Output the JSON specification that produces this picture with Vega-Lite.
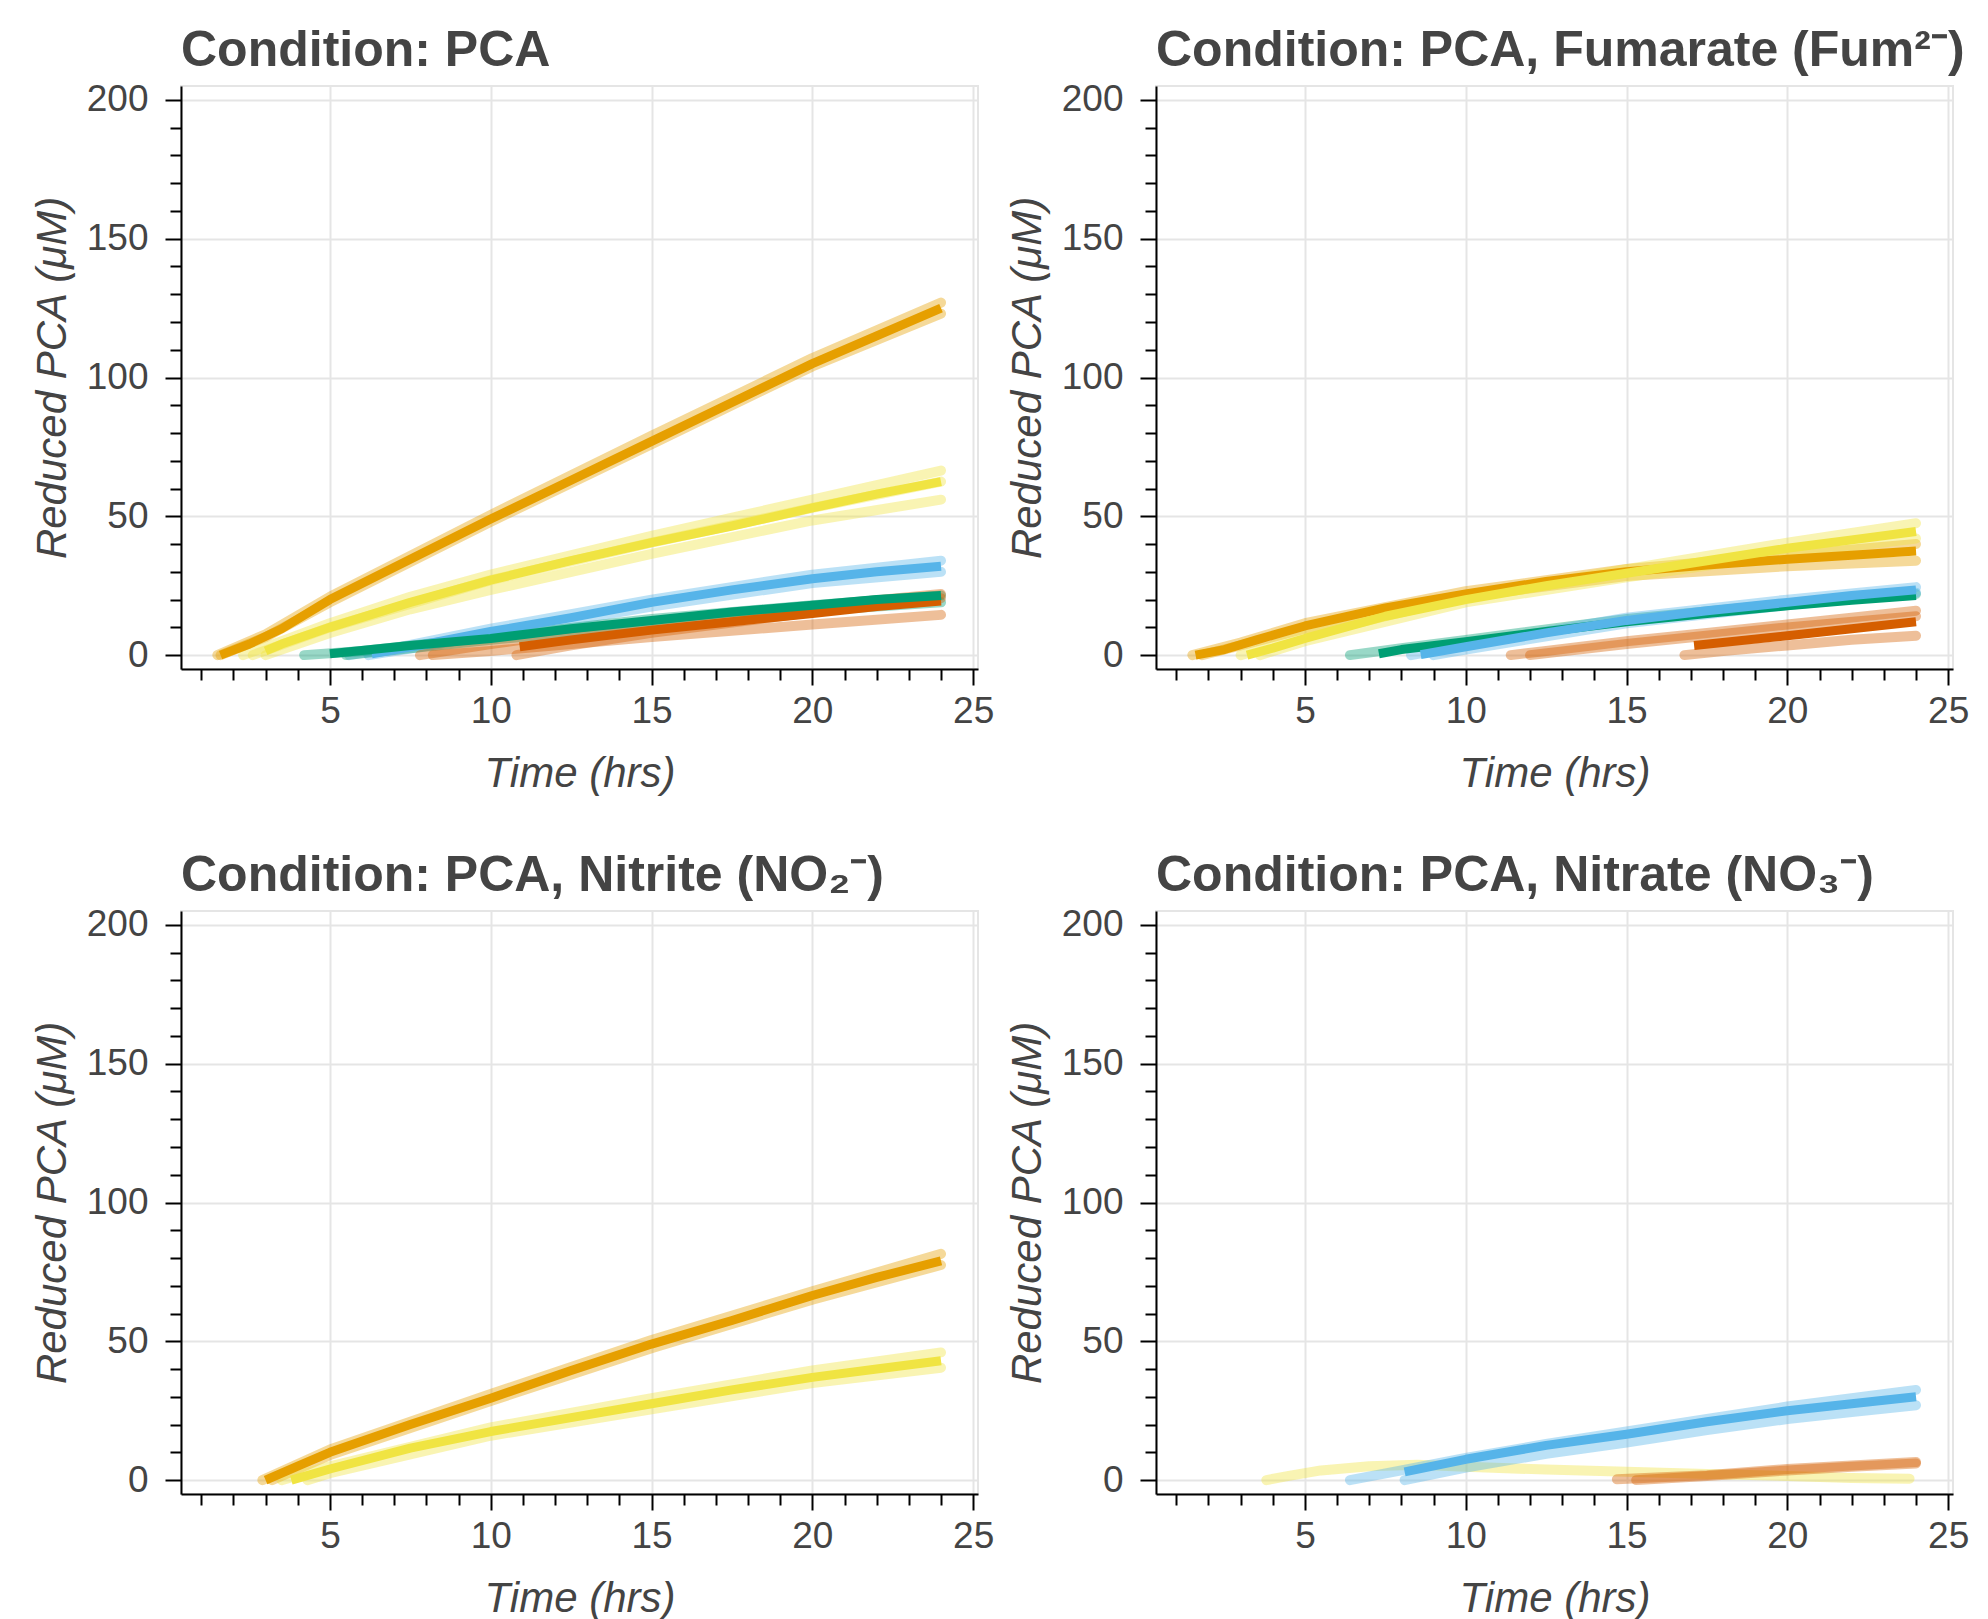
{
  "$schema": "https://vega.github.io/schema/vega-lite/v6.json",
  "padding": {"left": 30, "top": 24, "right": 5, "bottom": 5},
  "datasets": {
    "traces": [
      {"condition":"Condition: PCA","strain":"A","trace":"P-A-r1","kind":"rep","time":1.5,"pca":0},
      {"condition":"Condition: PCA","strain":"A","trace":"P-A-r1","kind":"rep","time":3,"pca":7.5},
      {"condition":"Condition: PCA","strain":"A","trace":"P-A-r1","kind":"rep","time":5,"pca":21},
      {"condition":"Condition: PCA","strain":"A","trace":"P-A-r1","kind":"rep","time":10,"pca":50.5},
      {"condition":"Condition: PCA","strain":"A","trace":"P-A-r1","kind":"rep","time":15,"pca":79},
      {"condition":"Condition: PCA","strain":"A","trace":"P-A-r1","kind":"rep","time":20,"pca":107},
      {"condition":"Condition: PCA","strain":"A","trace":"P-A-r1","kind":"rep","time":24,"pca":127},
      {"condition":"Condition: PCA","strain":"A","trace":"P-A-r2","kind":"rep","time":1.6,"pca":0},
      {"condition":"Condition: PCA","strain":"A","trace":"P-A-r2","kind":"rep","time":3,"pca":6.5},
      {"condition":"Condition: PCA","strain":"A","trace":"P-A-r2","kind":"rep","time":5,"pca":19},
      {"condition":"Condition: PCA","strain":"A","trace":"P-A-r2","kind":"rep","time":10,"pca":48},
      {"condition":"Condition: PCA","strain":"A","trace":"P-A-r2","kind":"rep","time":15,"pca":76},
      {"condition":"Condition: PCA","strain":"A","trace":"P-A-r2","kind":"rep","time":20,"pca":104},
      {"condition":"Condition: PCA","strain":"A","trace":"P-A-r2","kind":"rep","time":24,"pca":123},
      {"condition":"Condition: PCA","strain":"B","trace":"P-B-r1","kind":"rep","time":2.3,"pca":0},
      {"condition":"Condition: PCA","strain":"B","trace":"P-B-r1","kind":"rep","time":3.5,"pca":5},
      {"condition":"Condition: PCA","strain":"B","trace":"P-B-r1","kind":"rep","time":5,"pca":11.5},
      {"condition":"Condition: PCA","strain":"B","trace":"P-B-r1","kind":"rep","time":7.5,"pca":21},
      {"condition":"Condition: PCA","strain":"B","trace":"P-B-r1","kind":"rep","time":10,"pca":29},
      {"condition":"Condition: PCA","strain":"B","trace":"P-B-r1","kind":"rep","time":15,"pca":43},
      {"condition":"Condition: PCA","strain":"B","trace":"P-B-r1","kind":"rep","time":20,"pca":56},
      {"condition":"Condition: PCA","strain":"B","trace":"P-B-r1","kind":"rep","time":24,"pca":66.5},
      {"condition":"Condition: PCA","strain":"B","trace":"P-B-r2","kind":"rep","time":3,"pca":0},
      {"condition":"Condition: PCA","strain":"B","trace":"P-B-r2","kind":"rep","time":5,"pca":8},
      {"condition":"Condition: PCA","strain":"B","trace":"P-B-r2","kind":"rep","time":7.5,"pca":16.5},
      {"condition":"Condition: PCA","strain":"B","trace":"P-B-r2","kind":"rep","time":10,"pca":23.5},
      {"condition":"Condition: PCA","strain":"B","trace":"P-B-r2","kind":"rep","time":15,"pca":36.5},
      {"condition":"Condition: PCA","strain":"B","trace":"P-B-r2","kind":"rep","time":20,"pca":48.5},
      {"condition":"Condition: PCA","strain":"B","trace":"P-B-r2","kind":"rep","time":24,"pca":56},
      {"condition":"Condition: PCA","strain":"B","trace":"P-B-r3","kind":"rep","time":2.6,"pca":0},
      {"condition":"Condition: PCA","strain":"B","trace":"P-B-r3","kind":"rep","time":5,"pca":10},
      {"condition":"Condition: PCA","strain":"B","trace":"P-B-r3","kind":"rep","time":10,"pca":27},
      {"condition":"Condition: PCA","strain":"B","trace":"P-B-r3","kind":"rep","time":15,"pca":40.5},
      {"condition":"Condition: PCA","strain":"B","trace":"P-B-r3","kind":"rep","time":20,"pca":53},
      {"condition":"Condition: PCA","strain":"B","trace":"P-B-r3","kind":"rep","time":24,"pca":62.5},
      {"condition":"Condition: PCA","strain":"C","trace":"P-C-r1","kind":"rep","time":5.6,"pca":0},
      {"condition":"Condition: PCA","strain":"C","trace":"P-C-r1","kind":"rep","time":7,"pca":2.5},
      {"condition":"Condition: PCA","strain":"C","trace":"P-C-r1","kind":"rep","time":10,"pca":9.5},
      {"condition":"Condition: PCA","strain":"C","trace":"P-C-r1","kind":"rep","time":15,"pca":20},
      {"condition":"Condition: PCA","strain":"C","trace":"P-C-r1","kind":"rep","time":20,"pca":29},
      {"condition":"Condition: PCA","strain":"C","trace":"P-C-r1","kind":"rep","time":24,"pca":34},
      {"condition":"Condition: PCA","strain":"C","trace":"P-C-r2","kind":"rep","time":6.2,"pca":0},
      {"condition":"Condition: PCA","strain":"C","trace":"P-C-r2","kind":"rep","time":8,"pca":3.3},
      {"condition":"Condition: PCA","strain":"C","trace":"P-C-r2","kind":"rep","time":10,"pca":7.5},
      {"condition":"Condition: PCA","strain":"C","trace":"P-C-r2","kind":"rep","time":15,"pca":17.5},
      {"condition":"Condition: PCA","strain":"C","trace":"P-C-r2","kind":"rep","time":20,"pca":26},
      {"condition":"Condition: PCA","strain":"C","trace":"P-C-r2","kind":"rep","time":24,"pca":30},
      {"condition":"Condition: PCA","strain":"D","trace":"P-D-r1","kind":"rep","time":4.2,"pca":0},
      {"condition":"Condition: PCA","strain":"D","trace":"P-D-r1","kind":"rep","time":6,"pca":1.5},
      {"condition":"Condition: PCA","strain":"D","trace":"P-D-r1","kind":"rep","time":10,"pca":6.5},
      {"condition":"Condition: PCA","strain":"D","trace":"P-D-r1","kind":"rep","time":15,"pca":13},
      {"condition":"Condition: PCA","strain":"D","trace":"P-D-r1","kind":"rep","time":20,"pca":18},
      {"condition":"Condition: PCA","strain":"D","trace":"P-D-r1","kind":"rep","time":24,"pca":21.5},
      {"condition":"Condition: PCA","strain":"D","trace":"P-D-r2","kind":"rep","time":5.5,"pca":0},
      {"condition":"Condition: PCA","strain":"D","trace":"P-D-r2","kind":"rep","time":10,"pca":5.5},
      {"condition":"Condition: PCA","strain":"D","trace":"P-D-r2","kind":"rep","time":15,"pca":11},
      {"condition":"Condition: PCA","strain":"D","trace":"P-D-r2","kind":"rep","time":20,"pca":16},
      {"condition":"Condition: PCA","strain":"D","trace":"P-D-r2","kind":"rep","time":24,"pca":19},
      {"condition":"Condition: PCA","strain":"E","trace":"P-E-r1","kind":"rep","time":7.8,"pca":0},
      {"condition":"Condition: PCA","strain":"E","trace":"P-E-r1","kind":"rep","time":10,"pca":4},
      {"condition":"Condition: PCA","strain":"E","trace":"P-E-r1","kind":"rep","time":12.5,"pca":8},
      {"condition":"Condition: PCA","strain":"E","trace":"P-E-r1","kind":"rep","time":15,"pca":11.5},
      {"condition":"Condition: PCA","strain":"E","trace":"P-E-r1","kind":"rep","time":20,"pca":17.5},
      {"condition":"Condition: PCA","strain":"E","trace":"P-E-r1","kind":"rep","time":24,"pca":22},
      {"condition":"Condition: PCA","strain":"E","trace":"P-E-r2","kind":"rep","time":8.2,"pca":0},
      {"condition":"Condition: PCA","strain":"E","trace":"P-E-r2","kind":"rep","time":10,"pca":1.5},
      {"condition":"Condition: PCA","strain":"E","trace":"P-E-r2","kind":"rep","time":12.5,"pca":4},
      {"condition":"Condition: PCA","strain":"E","trace":"P-E-r2","kind":"rep","time":15,"pca":6.5},
      {"condition":"Condition: PCA","strain":"E","trace":"P-E-r2","kind":"rep","time":20,"pca":11},
      {"condition":"Condition: PCA","strain":"E","trace":"P-E-r2","kind":"rep","time":24,"pca":14.5},
      {"condition":"Condition: PCA","strain":"E","trace":"P-E-r3","kind":"rep","time":10.8,"pca":0},
      {"condition":"Condition: PCA","strain":"E","trace":"P-E-r3","kind":"rep","time":12.5,"pca":3.5},
      {"condition":"Condition: PCA","strain":"E","trace":"P-E-r3","kind":"rep","time":15,"pca":8},
      {"condition":"Condition: PCA","strain":"E","trace":"P-E-r3","kind":"rep","time":20,"pca":15.5},
      {"condition":"Condition: PCA","strain":"E","trace":"P-E-r3","kind":"rep","time":24,"pca":20.5},
      {"condition":"Condition: PCA","strain":"A","trace":"P-A-m","kind":"mean","time":1.6,"pca":0},
      {"condition":"Condition: PCA","strain":"A","trace":"P-A-m","kind":"mean","time":2.5,"pca":4},
      {"condition":"Condition: PCA","strain":"A","trace":"P-A-m","kind":"mean","time":3.5,"pca":9.5},
      {"condition":"Condition: PCA","strain":"A","trace":"P-A-m","kind":"mean","time":5,"pca":20},
      {"condition":"Condition: PCA","strain":"A","trace":"P-A-m","kind":"mean","time":7.5,"pca":34.5},
      {"condition":"Condition: PCA","strain":"A","trace":"P-A-m","kind":"mean","time":10,"pca":49},
      {"condition":"Condition: PCA","strain":"A","trace":"P-A-m","kind":"mean","time":12.5,"pca":63},
      {"condition":"Condition: PCA","strain":"A","trace":"P-A-m","kind":"mean","time":15,"pca":77},
      {"condition":"Condition: PCA","strain":"A","trace":"P-A-m","kind":"mean","time":17.5,"pca":91},
      {"condition":"Condition: PCA","strain":"A","trace":"P-A-m","kind":"mean","time":20,"pca":105},
      {"condition":"Condition: PCA","strain":"A","trace":"P-A-m","kind":"mean","time":22,"pca":115},
      {"condition":"Condition: PCA","strain":"A","trace":"P-A-m","kind":"mean","time":24,"pca":125},
      {"condition":"Condition: PCA","strain":"B","trace":"P-B-m","kind":"mean","time":3,"pca":1.5},
      {"condition":"Condition: PCA","strain":"B","trace":"P-B-m","kind":"mean","time":3.5,"pca":4},
      {"condition":"Condition: PCA","strain":"B","trace":"P-B-m","kind":"mean","time":5,"pca":10},
      {"condition":"Condition: PCA","strain":"B","trace":"P-B-m","kind":"mean","time":7.5,"pca":19},
      {"condition":"Condition: PCA","strain":"B","trace":"P-B-m","kind":"mean","time":10,"pca":27},
      {"condition":"Condition: PCA","strain":"B","trace":"P-B-m","kind":"mean","time":12.5,"pca":34},
      {"condition":"Condition: PCA","strain":"B","trace":"P-B-m","kind":"mean","time":15,"pca":40.5},
      {"condition":"Condition: PCA","strain":"B","trace":"P-B-m","kind":"mean","time":17.5,"pca":46.5},
      {"condition":"Condition: PCA","strain":"B","trace":"P-B-m","kind":"mean","time":20,"pca":53},
      {"condition":"Condition: PCA","strain":"B","trace":"P-B-m","kind":"mean","time":22,"pca":58},
      {"condition":"Condition: PCA","strain":"B","trace":"P-B-m","kind":"mean","time":24,"pca":62.5},
      {"condition":"Condition: PCA","strain":"C","trace":"P-C-m","kind":"mean","time":6.3,"pca":0.5},
      {"condition":"Condition: PCA","strain":"C","trace":"P-C-m","kind":"mean","time":8,"pca":4},
      {"condition":"Condition: PCA","strain":"C","trace":"P-C-m","kind":"mean","time":10,"pca":8.5},
      {"condition":"Condition: PCA","strain":"C","trace":"P-C-m","kind":"mean","time":12.5,"pca":13.5},
      {"condition":"Condition: PCA","strain":"C","trace":"P-C-m","kind":"mean","time":15,"pca":19},
      {"condition":"Condition: PCA","strain":"C","trace":"P-C-m","kind":"mean","time":17.5,"pca":23.5},
      {"condition":"Condition: PCA","strain":"C","trace":"P-C-m","kind":"mean","time":20,"pca":27.5},
      {"condition":"Condition: PCA","strain":"C","trace":"P-C-m","kind":"mean","time":22,"pca":30},
      {"condition":"Condition: PCA","strain":"C","trace":"P-C-m","kind":"mean","time":24,"pca":32},
      {"condition":"Condition: PCA","strain":"E","trace":"P-E-m","kind":"mean","time":10.9,"pca":3},
      {"condition":"Condition: PCA","strain":"E","trace":"P-E-m","kind":"mean","time":12.5,"pca":5.5},
      {"condition":"Condition: PCA","strain":"E","trace":"P-E-m","kind":"mean","time":15,"pca":9},
      {"condition":"Condition: PCA","strain":"E","trace":"P-E-m","kind":"mean","time":17.5,"pca":12},
      {"condition":"Condition: PCA","strain":"E","trace":"P-E-m","kind":"mean","time":20,"pca":15},
      {"condition":"Condition: PCA","strain":"E","trace":"P-E-m","kind":"mean","time":22,"pca":17.5},
      {"condition":"Condition: PCA","strain":"E","trace":"P-E-m","kind":"mean","time":24,"pca":19.5},
      {"condition":"Condition: PCA","strain":"D","trace":"P-D-m","kind":"mean","time":5,"pca":0.5},
      {"condition":"Condition: PCA","strain":"D","trace":"P-D-m","kind":"mean","time":7.5,"pca":3.5},
      {"condition":"Condition: PCA","strain":"D","trace":"P-D-m","kind":"mean","time":10,"pca":6},
      {"condition":"Condition: PCA","strain":"D","trace":"P-D-m","kind":"mean","time":12.5,"pca":9.5},
      {"condition":"Condition: PCA","strain":"D","trace":"P-D-m","kind":"mean","time":15,"pca":12.5},
      {"condition":"Condition: PCA","strain":"D","trace":"P-D-m","kind":"mean","time":17.5,"pca":15.5},
      {"condition":"Condition: PCA","strain":"D","trace":"P-D-m","kind":"mean","time":20,"pca":18},
      {"condition":"Condition: PCA","strain":"D","trace":"P-D-m","kind":"mean","time":22,"pca":20},
      {"condition":"Condition: PCA","strain":"D","trace":"P-D-m","kind":"mean","time":24,"pca":21.5},

      {"condition":"Condition: PCA, Fumarate (Fum²⁻)","strain":"A","trace":"F-A-r1","kind":"rep","time":1.5,"pca":0},
      {"condition":"Condition: PCA, Fumarate (Fum²⁻)","strain":"A","trace":"F-A-r1","kind":"rep","time":3,"pca":4.5},
      {"condition":"Condition: PCA, Fumarate (Fum²⁻)","strain":"A","trace":"F-A-r1","kind":"rep","time":5,"pca":11.5},
      {"condition":"Condition: PCA, Fumarate (Fum²⁻)","strain":"A","trace":"F-A-r1","kind":"rep","time":10,"pca":23},
      {"condition":"Condition: PCA, Fumarate (Fum²⁻)","strain":"A","trace":"F-A-r1","kind":"rep","time":15,"pca":31},
      {"condition":"Condition: PCA, Fumarate (Fum²⁻)","strain":"A","trace":"F-A-r1","kind":"rep","time":20,"pca":36},
      {"condition":"Condition: PCA, Fumarate (Fum²⁻)","strain":"A","trace":"F-A-r1","kind":"rep","time":24,"pca":40},
      {"condition":"Condition: PCA, Fumarate (Fum²⁻)","strain":"A","trace":"F-A-r2","kind":"rep","time":1.8,"pca":0},
      {"condition":"Condition: PCA, Fumarate (Fum²⁻)","strain":"A","trace":"F-A-r2","kind":"rep","time":3,"pca":3.5},
      {"condition":"Condition: PCA, Fumarate (Fum²⁻)","strain":"A","trace":"F-A-r2","kind":"rep","time":5,"pca":9.5},
      {"condition":"Condition: PCA, Fumarate (Fum²⁻)","strain":"A","trace":"F-A-r2","kind":"rep","time":10,"pca":21},
      {"condition":"Condition: PCA, Fumarate (Fum²⁻)","strain":"A","trace":"F-A-r2","kind":"rep","time":15,"pca":28.5},
      {"condition":"Condition: PCA, Fumarate (Fum²⁻)","strain":"A","trace":"F-A-r2","kind":"rep","time":20,"pca":32},
      {"condition":"Condition: PCA, Fumarate (Fum²⁻)","strain":"A","trace":"F-A-r2","kind":"rep","time":24,"pca":34},
      {"condition":"Condition: PCA, Fumarate (Fum²⁻)","strain":"B","trace":"F-B-r1","kind":"rep","time":3,"pca":0},
      {"condition":"Condition: PCA, Fumarate (Fum²⁻)","strain":"B","trace":"F-B-r1","kind":"rep","time":5,"pca":7},
      {"condition":"Condition: PCA, Fumarate (Fum²⁻)","strain":"B","trace":"F-B-r1","kind":"rep","time":10,"pca":21},
      {"condition":"Condition: PCA, Fumarate (Fum²⁻)","strain":"B","trace":"F-B-r1","kind":"rep","time":15,"pca":31},
      {"condition":"Condition: PCA, Fumarate (Fum²⁻)","strain":"B","trace":"F-B-r1","kind":"rep","time":20,"pca":40.5},
      {"condition":"Condition: PCA, Fumarate (Fum²⁻)","strain":"B","trace":"F-B-r1","kind":"rep","time":24,"pca":47.5},
      {"condition":"Condition: PCA, Fumarate (Fum²⁻)","strain":"B","trace":"F-B-r2","kind":"rep","time":3.6,"pca":0},
      {"condition":"Condition: PCA, Fumarate (Fum²⁻)","strain":"B","trace":"F-B-r2","kind":"rep","time":5,"pca":5},
      {"condition":"Condition: PCA, Fumarate (Fum²⁻)","strain":"B","trace":"F-B-r2","kind":"rep","time":10,"pca":19},
      {"condition":"Condition: PCA, Fumarate (Fum²⁻)","strain":"B","trace":"F-B-r2","kind":"rep","time":15,"pca":28},
      {"condition":"Condition: PCA, Fumarate (Fum²⁻)","strain":"B","trace":"F-B-r2","kind":"rep","time":20,"pca":36.5},
      {"condition":"Condition: PCA, Fumarate (Fum²⁻)","strain":"B","trace":"F-B-r2","kind":"rep","time":24,"pca":42},
      {"condition":"Condition: PCA, Fumarate (Fum²⁻)","strain":"D","trace":"F-D-r1","kind":"rep","time":6.4,"pca":0},
      {"condition":"Condition: PCA, Fumarate (Fum²⁻)","strain":"D","trace":"F-D-r1","kind":"rep","time":8,"pca":2.5},
      {"condition":"Condition: PCA, Fumarate (Fum²⁻)","strain":"D","trace":"F-D-r1","kind":"rep","time":10,"pca":5.5},
      {"condition":"Condition: PCA, Fumarate (Fum²⁻)","strain":"D","trace":"F-D-r1","kind":"rep","time":15,"pca":13},
      {"condition":"Condition: PCA, Fumarate (Fum²⁻)","strain":"D","trace":"F-D-r1","kind":"rep","time":20,"pca":18.5},
      {"condition":"Condition: PCA, Fumarate (Fum²⁻)","strain":"D","trace":"F-D-r1","kind":"rep","time":24,"pca":22},
      {"condition":"Condition: PCA, Fumarate (Fum²⁻)","strain":"C","trace":"F-C-r1","kind":"rep","time":8.3,"pca":0},
      {"condition":"Condition: PCA, Fumarate (Fum²⁻)","strain":"C","trace":"F-C-r1","kind":"rep","time":10,"pca":3.5},
      {"condition":"Condition: PCA, Fumarate (Fum²⁻)","strain":"C","trace":"F-C-r1","kind":"rep","time":15,"pca":13.5},
      {"condition":"Condition: PCA, Fumarate (Fum²⁻)","strain":"C","trace":"F-C-r1","kind":"rep","time":20,"pca":20},
      {"condition":"Condition: PCA, Fumarate (Fum²⁻)","strain":"C","trace":"F-C-r1","kind":"rep","time":24,"pca":24.5},
      {"condition":"Condition: PCA, Fumarate (Fum²⁻)","strain":"C","trace":"F-C-r2","kind":"rep","time":9,"pca":0},
      {"condition":"Condition: PCA, Fumarate (Fum²⁻)","strain":"C","trace":"F-C-r2","kind":"rep","time":10,"pca":2},
      {"condition":"Condition: PCA, Fumarate (Fum²⁻)","strain":"C","trace":"F-C-r2","kind":"rep","time":15,"pca":11.5},
      {"condition":"Condition: PCA, Fumarate (Fum²⁻)","strain":"C","trace":"F-C-r2","kind":"rep","time":20,"pca":18},
      {"condition":"Condition: PCA, Fumarate (Fum²⁻)","strain":"C","trace":"F-C-r2","kind":"rep","time":24,"pca":22.5},
      {"condition":"Condition: PCA, Fumarate (Fum²⁻)","strain":"E","trace":"F-E-r1","kind":"rep","time":11.4,"pca":0},
      {"condition":"Condition: PCA, Fumarate (Fum²⁻)","strain":"E","trace":"F-E-r1","kind":"rep","time":12.5,"pca":1.5},
      {"condition":"Condition: PCA, Fumarate (Fum²⁻)","strain":"E","trace":"F-E-r1","kind":"rep","time":15,"pca":5},
      {"condition":"Condition: PCA, Fumarate (Fum²⁻)","strain":"E","trace":"F-E-r1","kind":"rep","time":17.5,"pca":8},
      {"condition":"Condition: PCA, Fumarate (Fum²⁻)","strain":"E","trace":"F-E-r1","kind":"rep","time":20,"pca":11},
      {"condition":"Condition: PCA, Fumarate (Fum²⁻)","strain":"E","trace":"F-E-r1","kind":"rep","time":22,"pca":13.5},
      {"condition":"Condition: PCA, Fumarate (Fum²⁻)","strain":"E","trace":"F-E-r1","kind":"rep","time":24,"pca":16},
      {"condition":"Condition: PCA, Fumarate (Fum²⁻)","strain":"E","trace":"F-E-r2","kind":"rep","time":12,"pca":0},
      {"condition":"Condition: PCA, Fumarate (Fum²⁻)","strain":"E","trace":"F-E-r2","kind":"rep","time":15,"pca":4},
      {"condition":"Condition: PCA, Fumarate (Fum²⁻)","strain":"E","trace":"F-E-r2","kind":"rep","time":20,"pca":10},
      {"condition":"Condition: PCA, Fumarate (Fum²⁻)","strain":"E","trace":"F-E-r2","kind":"rep","time":24,"pca":14},
      {"condition":"Condition: PCA, Fumarate (Fum²⁻)","strain":"E","trace":"F-E-r3","kind":"rep","time":16.8,"pca":0},
      {"condition":"Condition: PCA, Fumarate (Fum²⁻)","strain":"E","trace":"F-E-r3","kind":"rep","time":18,"pca":1.5},
      {"condition":"Condition: PCA, Fumarate (Fum²⁻)","strain":"E","trace":"F-E-r3","kind":"rep","time":20,"pca":3.5},
      {"condition":"Condition: PCA, Fumarate (Fum²⁻)","strain":"E","trace":"F-E-r3","kind":"rep","time":22,"pca":5.5},
      {"condition":"Condition: PCA, Fumarate (Fum²⁻)","strain":"E","trace":"F-E-r3","kind":"rep","time":24,"pca":7},
      {"condition":"Condition: PCA, Fumarate (Fum²⁻)","strain":"A","trace":"F-A-m","kind":"mean","time":1.6,"pca":0},
      {"condition":"Condition: PCA, Fumarate (Fum²⁻)","strain":"A","trace":"F-A-m","kind":"mean","time":2.5,"pca":2},
      {"condition":"Condition: PCA, Fumarate (Fum²⁻)","strain":"A","trace":"F-A-m","kind":"mean","time":3.5,"pca":5.5},
      {"condition":"Condition: PCA, Fumarate (Fum²⁻)","strain":"A","trace":"F-A-m","kind":"mean","time":5,"pca":10.5},
      {"condition":"Condition: PCA, Fumarate (Fum²⁻)","strain":"A","trace":"F-A-m","kind":"mean","time":7.5,"pca":17},
      {"condition":"Condition: PCA, Fumarate (Fum²⁻)","strain":"A","trace":"F-A-m","kind":"mean","time":10,"pca":22},
      {"condition":"Condition: PCA, Fumarate (Fum²⁻)","strain":"A","trace":"F-A-m","kind":"mean","time":12.5,"pca":26.5},
      {"condition":"Condition: PCA, Fumarate (Fum²⁻)","strain":"A","trace":"F-A-m","kind":"mean","time":15,"pca":30},
      {"condition":"Condition: PCA, Fumarate (Fum²⁻)","strain":"A","trace":"F-A-m","kind":"mean","time":17.5,"pca":32.5},
      {"condition":"Condition: PCA, Fumarate (Fum²⁻)","strain":"A","trace":"F-A-m","kind":"mean","time":20,"pca":34.5},
      {"condition":"Condition: PCA, Fumarate (Fum²⁻)","strain":"A","trace":"F-A-m","kind":"mean","time":22,"pca":36},
      {"condition":"Condition: PCA, Fumarate (Fum²⁻)","strain":"A","trace":"F-A-m","kind":"mean","time":24,"pca":37.5},
      {"condition":"Condition: PCA, Fumarate (Fum²⁻)","strain":"B","trace":"F-B-m","kind":"mean","time":3.2,"pca":0},
      {"condition":"Condition: PCA, Fumarate (Fum²⁻)","strain":"B","trace":"F-B-m","kind":"mean","time":4,"pca":2.5},
      {"condition":"Condition: PCA, Fumarate (Fum²⁻)","strain":"B","trace":"F-B-m","kind":"mean","time":5,"pca":6},
      {"condition":"Condition: PCA, Fumarate (Fum²⁻)","strain":"B","trace":"F-B-m","kind":"mean","time":7.5,"pca":14},
      {"condition":"Condition: PCA, Fumarate (Fum²⁻)","strain":"B","trace":"F-B-m","kind":"mean","time":10,"pca":20},
      {"condition":"Condition: PCA, Fumarate (Fum²⁻)","strain":"B","trace":"F-B-m","kind":"mean","time":12.5,"pca":25},
      {"condition":"Condition: PCA, Fumarate (Fum²⁻)","strain":"B","trace":"F-B-m","kind":"mean","time":15,"pca":29.5},
      {"condition":"Condition: PCA, Fumarate (Fum²⁻)","strain":"B","trace":"F-B-m","kind":"mean","time":17.5,"pca":34},
      {"condition":"Condition: PCA, Fumarate (Fum²⁻)","strain":"B","trace":"F-B-m","kind":"mean","time":20,"pca":38.5},
      {"condition":"Condition: PCA, Fumarate (Fum²⁻)","strain":"B","trace":"F-B-m","kind":"mean","time":22,"pca":41.5},
      {"condition":"Condition: PCA, Fumarate (Fum²⁻)","strain":"B","trace":"F-B-m","kind":"mean","time":24,"pca":44.5},
      {"condition":"Condition: PCA, Fumarate (Fum²⁻)","strain":"D","trace":"F-D-m","kind":"mean","time":7.3,"pca":0.5},
      {"condition":"Condition: PCA, Fumarate (Fum²⁻)","strain":"D","trace":"F-D-m","kind":"mean","time":8,"pca":2},
      {"condition":"Condition: PCA, Fumarate (Fum²⁻)","strain":"D","trace":"F-D-m","kind":"mean","time":10,"pca":4.8},
      {"condition":"Condition: PCA, Fumarate (Fum²⁻)","strain":"D","trace":"F-D-m","kind":"mean","time":12.5,"pca":8.5},
      {"condition":"Condition: PCA, Fumarate (Fum²⁻)","strain":"D","trace":"F-D-m","kind":"mean","time":15,"pca":12},
      {"condition":"Condition: PCA, Fumarate (Fum²⁻)","strain":"D","trace":"F-D-m","kind":"mean","time":17.5,"pca":15},
      {"condition":"Condition: PCA, Fumarate (Fum²⁻)","strain":"D","trace":"F-D-m","kind":"mean","time":20,"pca":17.8},
      {"condition":"Condition: PCA, Fumarate (Fum²⁻)","strain":"D","trace":"F-D-m","kind":"mean","time":22,"pca":19.8},
      {"condition":"Condition: PCA, Fumarate (Fum²⁻)","strain":"D","trace":"F-D-m","kind":"mean","time":24,"pca":21.5},
      {"condition":"Condition: PCA, Fumarate (Fum²⁻)","strain":"C","trace":"F-C-m","kind":"mean","time":8.6,"pca":0.2},
      {"condition":"Condition: PCA, Fumarate (Fum²⁻)","strain":"C","trace":"F-C-m","kind":"mean","time":10,"pca":3},
      {"condition":"Condition: PCA, Fumarate (Fum²⁻)","strain":"C","trace":"F-C-m","kind":"mean","time":12.5,"pca":8},
      {"condition":"Condition: PCA, Fumarate (Fum²⁻)","strain":"C","trace":"F-C-m","kind":"mean","time":15,"pca":12.5},
      {"condition":"Condition: PCA, Fumarate (Fum²⁻)","strain":"C","trace":"F-C-m","kind":"mean","time":17.5,"pca":16},
      {"condition":"Condition: PCA, Fumarate (Fum²⁻)","strain":"C","trace":"F-C-m","kind":"mean","time":20,"pca":19},
      {"condition":"Condition: PCA, Fumarate (Fum²⁻)","strain":"C","trace":"F-C-m","kind":"mean","time":22,"pca":21.5},
      {"condition":"Condition: PCA, Fumarate (Fum²⁻)","strain":"C","trace":"F-C-m","kind":"mean","time":24,"pca":23.5},
      {"condition":"Condition: PCA, Fumarate (Fum²⁻)","strain":"E","trace":"F-E-m","kind":"mean","time":17.1,"pca":3.5},
      {"condition":"Condition: PCA, Fumarate (Fum²⁻)","strain":"E","trace":"F-E-m","kind":"mean","time":20,"pca":7},
      {"condition":"Condition: PCA, Fumarate (Fum²⁻)","strain":"E","trace":"F-E-m","kind":"mean","time":22,"pca":9.5},
      {"condition":"Condition: PCA, Fumarate (Fum²⁻)","strain":"E","trace":"F-E-m","kind":"mean","time":24,"pca":12},

      {"condition":"Condition: PCA, Nitrite (NO₂⁻)","strain":"A","trace":"N2-A-r1","kind":"rep","time":2.9,"pca":0},
      {"condition":"Condition: PCA, Nitrite (NO₂⁻)","strain":"A","trace":"N2-A-r1","kind":"rep","time":5,"pca":11},
      {"condition":"Condition: PCA, Nitrite (NO₂⁻)","strain":"A","trace":"N2-A-r1","kind":"rep","time":10,"pca":31},
      {"condition":"Condition: PCA, Nitrite (NO₂⁻)","strain":"A","trace":"N2-A-r1","kind":"rep","time":15,"pca":50.5},
      {"condition":"Condition: PCA, Nitrite (NO₂⁻)","strain":"A","trace":"N2-A-r1","kind":"rep","time":20,"pca":68},
      {"condition":"Condition: PCA, Nitrite (NO₂⁻)","strain":"A","trace":"N2-A-r1","kind":"rep","time":24,"pca":81.5},
      {"condition":"Condition: PCA, Nitrite (NO₂⁻)","strain":"A","trace":"N2-A-r2","kind":"rep","time":3.2,"pca":0},
      {"condition":"Condition: PCA, Nitrite (NO₂⁻)","strain":"A","trace":"N2-A-r2","kind":"rep","time":5,"pca":9},
      {"condition":"Condition: PCA, Nitrite (NO₂⁻)","strain":"A","trace":"N2-A-r2","kind":"rep","time":10,"pca":28.5},
      {"condition":"Condition: PCA, Nitrite (NO₂⁻)","strain":"A","trace":"N2-A-r2","kind":"rep","time":15,"pca":47.5},
      {"condition":"Condition: PCA, Nitrite (NO₂⁻)","strain":"A","trace":"N2-A-r2","kind":"rep","time":20,"pca":65},
      {"condition":"Condition: PCA, Nitrite (NO₂⁻)","strain":"A","trace":"N2-A-r2","kind":"rep","time":24,"pca":77.5},
      {"condition":"Condition: PCA, Nitrite (NO₂⁻)","strain":"B","trace":"N2-B-r1","kind":"rep","time":3.5,"pca":0},
      {"condition":"Condition: PCA, Nitrite (NO₂⁻)","strain":"B","trace":"N2-B-r1","kind":"rep","time":5,"pca":5},
      {"condition":"Condition: PCA, Nitrite (NO₂⁻)","strain":"B","trace":"N2-B-r1","kind":"rep","time":10,"pca":19},
      {"condition":"Condition: PCA, Nitrite (NO₂⁻)","strain":"B","trace":"N2-B-r1","kind":"rep","time":15,"pca":29.5},
      {"condition":"Condition: PCA, Nitrite (NO₂⁻)","strain":"B","trace":"N2-B-r1","kind":"rep","time":20,"pca":39.5},
      {"condition":"Condition: PCA, Nitrite (NO₂⁻)","strain":"B","trace":"N2-B-r1","kind":"rep","time":24,"pca":46},
      {"condition":"Condition: PCA, Nitrite (NO₂⁻)","strain":"B","trace":"N2-B-r2","kind":"rep","time":4.3,"pca":0},
      {"condition":"Condition: PCA, Nitrite (NO₂⁻)","strain":"B","trace":"N2-B-r2","kind":"rep","time":5,"pca":2.5},
      {"condition":"Condition: PCA, Nitrite (NO₂⁻)","strain":"B","trace":"N2-B-r2","kind":"rep","time":10,"pca":16},
      {"condition":"Condition: PCA, Nitrite (NO₂⁻)","strain":"B","trace":"N2-B-r2","kind":"rep","time":15,"pca":25.5},
      {"condition":"Condition: PCA, Nitrite (NO₂⁻)","strain":"B","trace":"N2-B-r2","kind":"rep","time":20,"pca":35},
      {"condition":"Condition: PCA, Nitrite (NO₂⁻)","strain":"B","trace":"N2-B-r2","kind":"rep","time":24,"pca":40.5},
      {"condition":"Condition: PCA, Nitrite (NO₂⁻)","strain":"A","trace":"N2-A-m","kind":"mean","time":3,"pca":0},
      {"condition":"Condition: PCA, Nitrite (NO₂⁻)","strain":"A","trace":"N2-A-m","kind":"mean","time":4,"pca":5},
      {"condition":"Condition: PCA, Nitrite (NO₂⁻)","strain":"A","trace":"N2-A-m","kind":"mean","time":5,"pca":10},
      {"condition":"Condition: PCA, Nitrite (NO₂⁻)","strain":"A","trace":"N2-A-m","kind":"mean","time":7.5,"pca":20},
      {"condition":"Condition: PCA, Nitrite (NO₂⁻)","strain":"A","trace":"N2-A-m","kind":"mean","time":10,"pca":29.5},
      {"condition":"Condition: PCA, Nitrite (NO₂⁻)","strain":"A","trace":"N2-A-m","kind":"mean","time":12.5,"pca":39.5},
      {"condition":"Condition: PCA, Nitrite (NO₂⁻)","strain":"A","trace":"N2-A-m","kind":"mean","time":15,"pca":49},
      {"condition":"Condition: PCA, Nitrite (NO₂⁻)","strain":"A","trace":"N2-A-m","kind":"mean","time":17.5,"pca":57.5},
      {"condition":"Condition: PCA, Nitrite (NO₂⁻)","strain":"A","trace":"N2-A-m","kind":"mean","time":20,"pca":66.5},
      {"condition":"Condition: PCA, Nitrite (NO₂⁻)","strain":"A","trace":"N2-A-m","kind":"mean","time":22,"pca":73},
      {"condition":"Condition: PCA, Nitrite (NO₂⁻)","strain":"A","trace":"N2-A-m","kind":"mean","time":24,"pca":79},
      {"condition":"Condition: PCA, Nitrite (NO₂⁻)","strain":"B","trace":"N2-B-m","kind":"mean","time":3.8,"pca":0},
      {"condition":"Condition: PCA, Nitrite (NO₂⁻)","strain":"B","trace":"N2-B-m","kind":"mean","time":5,"pca":4},
      {"condition":"Condition: PCA, Nitrite (NO₂⁻)","strain":"B","trace":"N2-B-m","kind":"mean","time":7.5,"pca":11.5},
      {"condition":"Condition: PCA, Nitrite (NO₂⁻)","strain":"B","trace":"N2-B-m","kind":"mean","time":10,"pca":17.5},
      {"condition":"Condition: PCA, Nitrite (NO₂⁻)","strain":"B","trace":"N2-B-m","kind":"mean","time":12.5,"pca":22.5},
      {"condition":"Condition: PCA, Nitrite (NO₂⁻)","strain":"B","trace":"N2-B-m","kind":"mean","time":15,"pca":27.5},
      {"condition":"Condition: PCA, Nitrite (NO₂⁻)","strain":"B","trace":"N2-B-m","kind":"mean","time":17.5,"pca":32.5},
      {"condition":"Condition: PCA, Nitrite (NO₂⁻)","strain":"B","trace":"N2-B-m","kind":"mean","time":20,"pca":37},
      {"condition":"Condition: PCA, Nitrite (NO₂⁻)","strain":"B","trace":"N2-B-m","kind":"mean","time":22,"pca":40},
      {"condition":"Condition: PCA, Nitrite (NO₂⁻)","strain":"B","trace":"N2-B-m","kind":"mean","time":24,"pca":43},

      {"condition":"Condition: PCA, Nitrate (NO₃⁻)","strain":"B","trace":"N3-B-r1","kind":"rep","time":3.8,"pca":0},
      {"condition":"Condition: PCA, Nitrate (NO₃⁻)","strain":"B","trace":"N3-B-r1","kind":"rep","time":4.5,"pca":1.5},
      {"condition":"Condition: PCA, Nitrate (NO₃⁻)","strain":"B","trace":"N3-B-r1","kind":"rep","time":5.5,"pca":3.5},
      {"condition":"Condition: PCA, Nitrate (NO₃⁻)","strain":"B","trace":"N3-B-r1","kind":"rep","time":7,"pca":5},
      {"condition":"Condition: PCA, Nitrate (NO₃⁻)","strain":"B","trace":"N3-B-r1","kind":"rep","time":8.5,"pca":5.5},
      {"condition":"Condition: PCA, Nitrate (NO₃⁻)","strain":"B","trace":"N3-B-r1","kind":"rep","time":10,"pca":4.8},
      {"condition":"Condition: PCA, Nitrate (NO₃⁻)","strain":"B","trace":"N3-B-r1","kind":"rep","time":12.5,"pca":3.8},
      {"condition":"Condition: PCA, Nitrate (NO₃⁻)","strain":"B","trace":"N3-B-r1","kind":"rep","time":15,"pca":3},
      {"condition":"Condition: PCA, Nitrate (NO₃⁻)","strain":"B","trace":"N3-B-r1","kind":"rep","time":17.5,"pca":2.2},
      {"condition":"Condition: PCA, Nitrate (NO₃⁻)","strain":"B","trace":"N3-B-r1","kind":"rep","time":20,"pca":1.5},
      {"condition":"Condition: PCA, Nitrate (NO₃⁻)","strain":"B","trace":"N3-B-r1","kind":"rep","time":22,"pca":0.8},
      {"condition":"Condition: PCA, Nitrate (NO₃⁻)","strain":"B","trace":"N3-B-r1","kind":"rep","time":23.8,"pca":0.5},
      {"condition":"Condition: PCA, Nitrate (NO₃⁻)","strain":"C","trace":"N3-C-r1","kind":"rep","time":6.4,"pca":0},
      {"condition":"Condition: PCA, Nitrate (NO₃⁻)","strain":"C","trace":"N3-C-r1","kind":"rep","time":8,"pca":3.5},
      {"condition":"Condition: PCA, Nitrate (NO₃⁻)","strain":"C","trace":"N3-C-r1","kind":"rep","time":10,"pca":8},
      {"condition":"Condition: PCA, Nitrate (NO₃⁻)","strain":"C","trace":"N3-C-r1","kind":"rep","time":12.5,"pca":13},
      {"condition":"Condition: PCA, Nitrate (NO₃⁻)","strain":"C","trace":"N3-C-r1","kind":"rep","time":15,"pca":17.5},
      {"condition":"Condition: PCA, Nitrate (NO₃⁻)","strain":"C","trace":"N3-C-r1","kind":"rep","time":17.5,"pca":22},
      {"condition":"Condition: PCA, Nitrate (NO₃⁻)","strain":"C","trace":"N3-C-r1","kind":"rep","time":20,"pca":26.5},
      {"condition":"Condition: PCA, Nitrate (NO₃⁻)","strain":"C","trace":"N3-C-r1","kind":"rep","time":22,"pca":29.5},
      {"condition":"Condition: PCA, Nitrate (NO₃⁻)","strain":"C","trace":"N3-C-r1","kind":"rep","time":24,"pca":32.5},
      {"condition":"Condition: PCA, Nitrate (NO₃⁻)","strain":"C","trace":"N3-C-r2","kind":"rep","time":8.1,"pca":0},
      {"condition":"Condition: PCA, Nitrate (NO₃⁻)","strain":"C","trace":"N3-C-r2","kind":"rep","time":10,"pca":4.5},
      {"condition":"Condition: PCA, Nitrate (NO₃⁻)","strain":"C","trace":"N3-C-r2","kind":"rep","time":12.5,"pca":9.5},
      {"condition":"Condition: PCA, Nitrate (NO₃⁻)","strain":"C","trace":"N3-C-r2","kind":"rep","time":15,"pca":13.5},
      {"condition":"Condition: PCA, Nitrate (NO₃⁻)","strain":"C","trace":"N3-C-r2","kind":"rep","time":17.5,"pca":18},
      {"condition":"Condition: PCA, Nitrate (NO₃⁻)","strain":"C","trace":"N3-C-r2","kind":"rep","time":20,"pca":22},
      {"condition":"Condition: PCA, Nitrate (NO₃⁻)","strain":"C","trace":"N3-C-r2","kind":"rep","time":22,"pca":24.5},
      {"condition":"Condition: PCA, Nitrate (NO₃⁻)","strain":"C","trace":"N3-C-r2","kind":"rep","time":24,"pca":27},
      {"condition":"Condition: PCA, Nitrate (NO₃⁻)","strain":"E","trace":"N3-E-r1","kind":"rep","time":15.3,"pca":0},
      {"condition":"Condition: PCA, Nitrate (NO₃⁻)","strain":"E","trace":"N3-E-r1","kind":"rep","time":17.5,"pca":1.5},
      {"condition":"Condition: PCA, Nitrate (NO₃⁻)","strain":"E","trace":"N3-E-r1","kind":"rep","time":20,"pca":3.5},
      {"condition":"Condition: PCA, Nitrate (NO₃⁻)","strain":"E","trace":"N3-E-r1","kind":"rep","time":22,"pca":4.8},
      {"condition":"Condition: PCA, Nitrate (NO₃⁻)","strain":"E","trace":"N3-E-r1","kind":"rep","time":24,"pca":6},
      {"condition":"Condition: PCA, Nitrate (NO₃⁻)","strain":"E","trace":"N3-E-r2","kind":"rep","time":14.7,"pca":0.3},
      {"condition":"Condition: PCA, Nitrate (NO₃⁻)","strain":"E","trace":"N3-E-r2","kind":"rep","time":17.5,"pca":1.8},
      {"condition":"Condition: PCA, Nitrate (NO₃⁻)","strain":"E","trace":"N3-E-r2","kind":"rep","time":20,"pca":4},
      {"condition":"Condition: PCA, Nitrate (NO₃⁻)","strain":"E","trace":"N3-E-r2","kind":"rep","time":24,"pca":6.5},
      {"condition":"Condition: PCA, Nitrate (NO₃⁻)","strain":"C","trace":"N3-C-m","kind":"mean","time":8.1,"pca":3},
      {"condition":"Condition: PCA, Nitrate (NO₃⁻)","strain":"C","trace":"N3-C-m","kind":"mean","time":10,"pca":7.5},
      {"condition":"Condition: PCA, Nitrate (NO₃⁻)","strain":"C","trace":"N3-C-m","kind":"mean","time":12.5,"pca":12.5},
      {"condition":"Condition: PCA, Nitrate (NO₃⁻)","strain":"C","trace":"N3-C-m","kind":"mean","time":15,"pca":16.5},
      {"condition":"Condition: PCA, Nitrate (NO₃⁻)","strain":"C","trace":"N3-C-m","kind":"mean","time":17.5,"pca":21},
      {"condition":"Condition: PCA, Nitrate (NO₃⁻)","strain":"C","trace":"N3-C-m","kind":"mean","time":20,"pca":25},
      {"condition":"Condition: PCA, Nitrate (NO₃⁻)","strain":"C","trace":"N3-C-m","kind":"mean","time":22,"pca":27.5},
      {"condition":"Condition: PCA, Nitrate (NO₃⁻)","strain":"C","trace":"N3-C-m","kind":"mean","time":24,"pca":30}
    ]
  },
  "data": {"name": "traces"},
  "facet": {
    "field": "condition",
    "type": "nominal",
    "title": null,
    "sort": ["Condition: PCA", "Condition: PCA, Fumarate (Fum²⁻)", "Condition: PCA, Nitrite (NO₂⁻)", "Condition: PCA, Nitrate (NO₃⁻)"],
    "header": {
      "labelFont": "Liberation Sans",
      "labelFontSize": 50,
      "labelFontWeight": "bold",
      "labelColor": "#444444",
      "labelAnchor": "start",
      "labelAlign": "left",
      "labelBaseline": "alphabetic",
      "labelPadding": -35
    }
  },
  "columns": 2,
  "spacing": {"row": 54, "column": 10},
  "resolve": {"axis": {"x": "independent", "y": "independent"}},
  "spec": {
    "width": 797,
    "height": 583,
    "encoding": {
      "x": {
        "field": "time",
        "type": "quantitative",
        "title": "Time (hrs)",
        "scale": {"domain": [0.37, 25.15], "nice": false, "zero": false},
        "axis": {
          "values": [1,2,3,4,5,6,7,8,9,10,11,12,13,14,15,16,17,18,19,20,21,22,23,24,25],
          "labelExpr": "datum.value % 5 === 0 ? datum.label : ''",
          "labelOverlap": false,
          "labelFlush": false,
          "tickSize": {"condition": {"test": "datum.value % 5 === 0", "value": 16}, "value": 11},
          "gridOpacity": {"condition": {"test": "datum.value % 5 === 0", "value": 1}, "value": 0},
          "labelPadding": 8,
          "titlePadding": 24
        }
      },
      "y": {
        "field": "pca",
        "type": "quantitative",
        "title": "Reduced PCA (μM)",
        "scale": {"domain": [-5, 205], "nice": false, "zero": false},
        "axis": {
          "values": [0,10,20,30,40,50,60,70,80,90,100,110,120,130,140,150,160,170,180,190,200],
          "labelExpr": "datum.value % 50 === 0 ? datum.label : ''",
          "labelOverlap": false,
          "labelFlush": false,
          "tickSize": {"condition": {"test": "datum.value % 50 === 0", "value": 16}, "value": 11},
          "gridOpacity": {"condition": {"test": "datum.value % 50 === 0", "value": 1}, "value": 0},
          "labelPadding": 17,
          "titlePadding": 12
        }
      },
      "color": {
        "field": "strain",
        "type": "nominal",
        "scale": {"domain": ["A", "B", "C", "D", "E"], "range": ["#E69F00", "#F0E442", "#56B4E9", "#009E73", "#D55E00"]},
        "legend": null
      },
      "detail": {"field": "trace", "type": "nominal"}
    },
    "layer": [
      {
        "transform": [{"filter": "datum.kind === 'rep'"}],
        "mark": {"type": "line", "strokeWidth": 10, "opacity": 0.4, "strokeCap": "round", "strokeJoin": "round"}
      },
      {
        "transform": [{"filter": "datum.kind === 'mean'"}],
        "mark": {"type": "line", "strokeWidth": 9, "opacity": 1, "strokeCap": "butt", "strokeJoin": "round"}
      }
    ]
  },
  "config": {
    "font": "Liberation Sans",
    "background": "white",
    "view": {"stroke": "#e5e5e5", "strokeWidth": 2},
    "axis": {
      "domainColor": "#000000",
      "domainWidth": 2,
      "tickColor": "#000000",
      "tickWidth": 2,
      "gridColor": "#e5e5e5",
      "gridWidth": 2,
      "labelColor": "#444444",
      "labelFont": "Liberation Sans",
      "labelFontSize": 37,
      "titleFont": "Liberation Sans",
      "titleFontSize": 42,
      "titleFontStyle": "italic",
      "titleFontWeight": "normal",
      "titleColor": "#444444"
    }
  }
}
